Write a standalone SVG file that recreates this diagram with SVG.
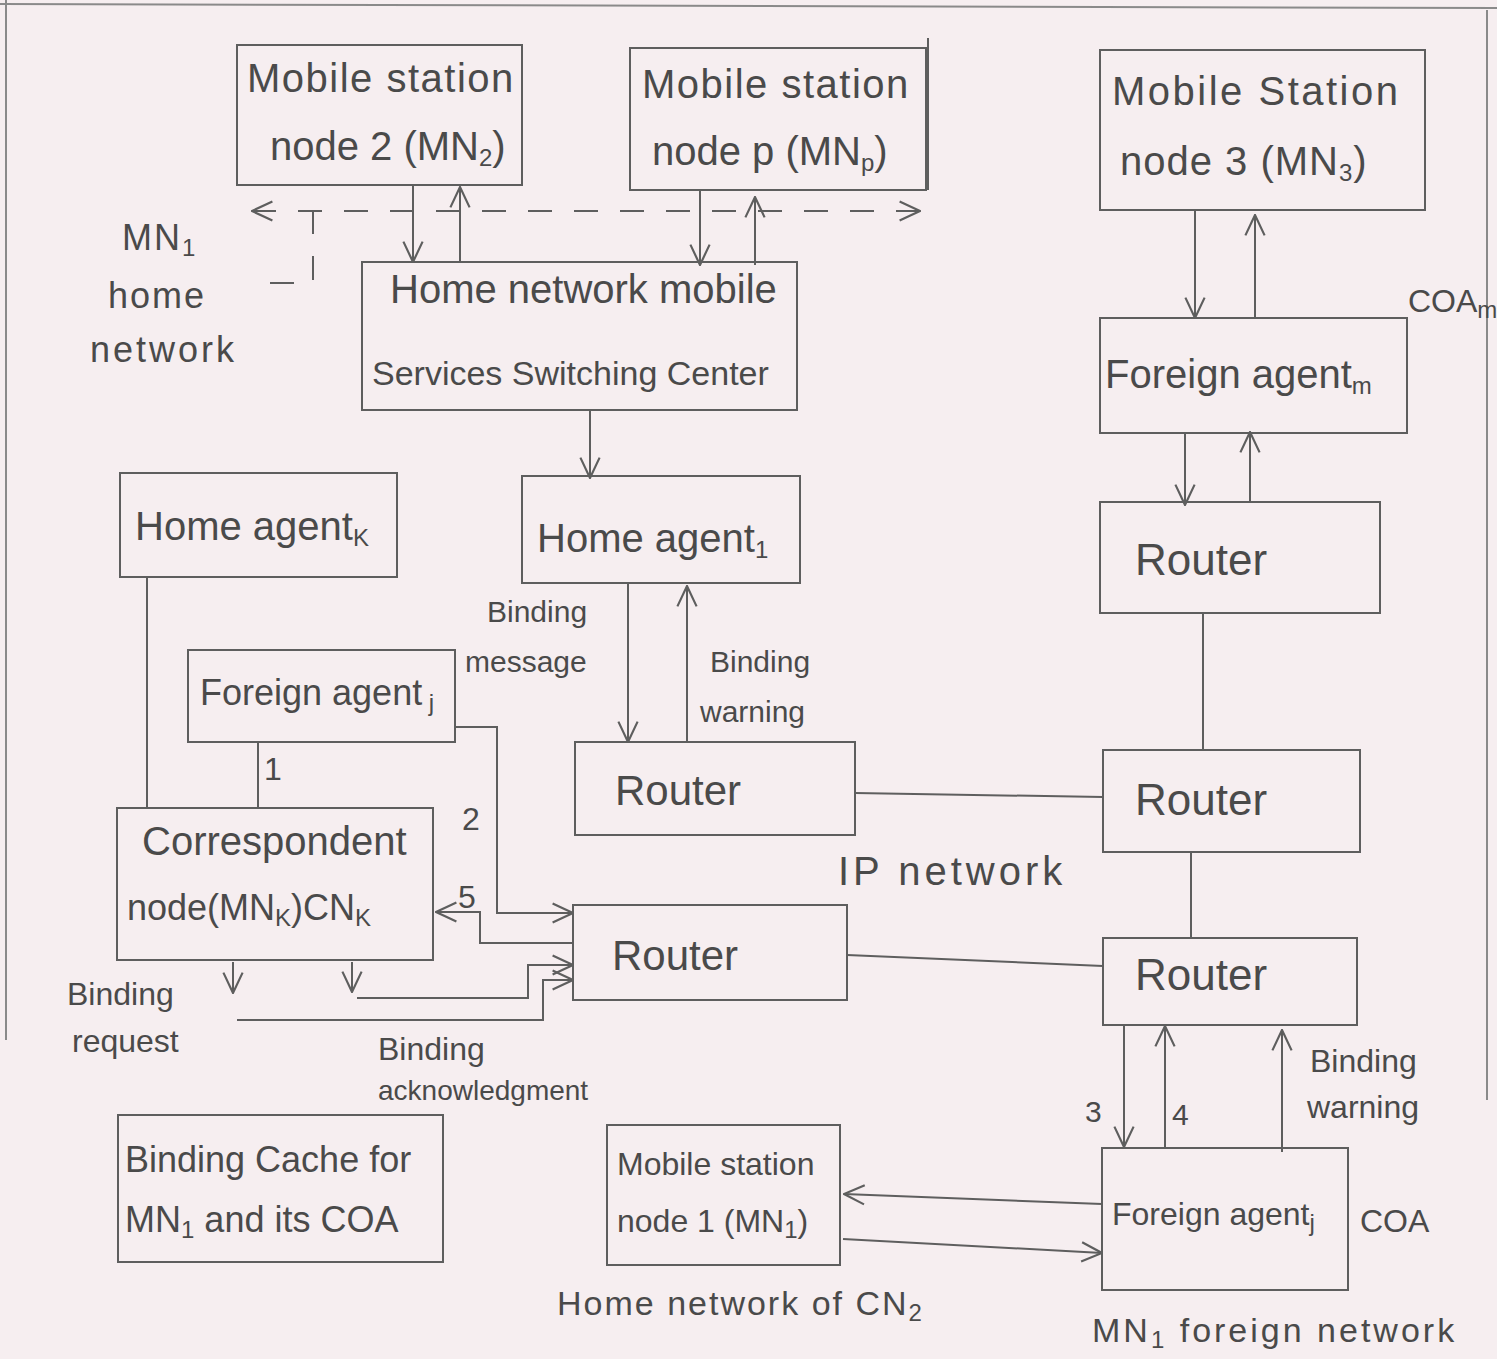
<svg xmlns="http://www.w3.org/2000/svg" width="1497" height="1359" viewBox="0 0 1497 1359">
<defs>
<style>
.bg{fill:#f6eef0}
.box{fill:none;stroke:#5e5e5e;stroke-width:2}
.ln{fill:none;stroke:#5e5e5e;stroke-width:2}
.ar{fill:none;stroke:#5e5e5e;stroke-width:2;marker-end:url(#ah)}
.dash{fill:none;stroke:#5e5e5e;stroke-width:2;stroke-dasharray:24 22}
.pg{fill:none;stroke:#8a8a8a;stroke-width:2}
text{font-family:"Liberation Sans","DejaVu Sans",sans-serif;fill:#4a4a4a}
.t40{font-size:40px}
.t36{font-size:36px}
.t32{font-size:32px}
.t30{font-size:30px}
.sub{font-size:24px}
</style>
<marker id="ah" viewBox="0 0 20 20" refX="19" refY="10" markerWidth="24" markerHeight="24" orient="auto-start-reverse" markerUnits="userSpaceOnUse">
<path d="M2,2 L19,10 L2,18" fill="none" stroke="#5e5e5e" stroke-width="1.8"/>
</marker>
</defs>
<rect class="bg" x="0" y="0" width="1497" height="1359"/>
<path class="pg" d="M0,4 L1497,8"/>
<path class="pg" d="M6,0 V1040"/>
<path class="pg" d="M1487,10 V1100"/>

<g id="connectors">
<path class="ar" d="M413,185 V262"/>
<path class="ar" d="M460,262 V187"/>
<path class="ar" d="M700,190 V265"/>
<path class="ar" d="M755,265 V197"/>
<path class="dash" d="M920,211 H252" marker-start="url(#ah)" marker-end="url(#ah)"/>
<path class="dash" d="M313,210 V283 H250"/>
<path class="ar" d="M1195,210 V318"/>
<path class="ar" d="M1255,318 V215"/>
<path class="ar" d="M1185,433 V505"/>
<path class="ar" d="M1250,503 V432"/>
<path class="ar" d="M590,410 V478"/>
<path class="ar" d="M628,583 V742"/>
<path class="ar" d="M687,742 V586"/>
<path class="ln" d="M1203,613 V750"/>
<path class="ln" d="M1191,852 V938"/>
<path class="ln" d="M855,793 L1103,797"/>
<path class="ln" d="M847,955 L1103,966"/>
<path class="ln" d="M147,577 V808"/>
<path class="ln" d="M258,742 V808"/>
<path class="ar" d="M455,727 H497 V913 H573"/>
<path class="ar" d="M573,943 H480 V912 H436"/>
<path class="ar" d="M233,962 V993"/>
<path class="ar" d="M237,1020 H543 V980 H573"/>
<path class="ar" d="M352,962 V992"/>
<path class="ar" d="M357,998 H528 V965 H573"/>
<path class="ar" d="M1102,1204 L844,1194"/>
<path class="ar" d="M843,1239 L1102,1253"/>
<path class="ar" d="M1124,1025 V1147"/>
<path class="ar" d="M1165,1148 V1026"/>
<path class="ar" d="M1282,1152 V1030"/>
</g>

<g id="mn2">
<rect class="box" x="237" y="45" width="285" height="140"/>
<text class="t40" x="247" y="92" letter-spacing="1.5">Mobile station</text>
<text class="t40" x="270" y="160">node 2 (MN<tspan class="sub" dy="6">2</tspan><tspan dy="-6">)</tspan></text>
</g>
<g id="mnp">
<rect class="box" x="630" y="48" width="296" height="142"/>
<path class="box" d="M928,38 V190"/>
<text class="t40" x="642" y="98" letter-spacing="1.5">Mobile station</text>
<text class="t40" x="652" y="165">node p (MN<tspan class="sub" dy="6">p</tspan><tspan dy="-6">)</tspan></text>
</g>
<g id="mn3">
<rect class="box" x="1100" y="50" width="325" height="160"/>
<text class="t40" x="1112" y="105" letter-spacing="2.5">Mobile Station</text>
<text class="t40" x="1120" y="175" letter-spacing="1">node 3 (MN<tspan class="sub" dy="6">3</tspan><tspan dy="-6">)</tspan></text>
</g>
<g id="msc">
<rect class="box" x="362" y="262" width="435" height="148"/>
<text class="t40" x="390" y="303">Home network mobile</text>
<text x="372" y="385" style="font-size:34px">Services Switching Center</text>
</g>
<g id="fam">
<rect class="box" x="1100" y="318" width="307" height="115"/>
<text class="t40" x="1105" y="388">Foreign agent<tspan class="sub" dy="6">m</tspan></text>
<text class="t32" x="1408" y="312">COA<tspan class="sub" dy="6">m</tspan></text>
</g>
<g id="router-r1">
<rect class="box" x="1100" y="502" width="280" height="111"/>
<text class="t40" x="1135" y="575" style="font-size:44px">Router</text>
</g>
<g id="hak">
<rect class="box" x="120" y="473" width="277" height="104"/>
<text class="t40" x="135" y="540">Home agent<tspan class="sub" dy="6">K</tspan></text>
</g>
<g id="ha1">
<rect class="box" x="522" y="476" width="278" height="107"/>
<text class="t40" x="537" y="552">Home agent<tspan class="sub" dy="6">1</tspan></text>
</g>
<g id="faj-left">
<rect class="box" x="188" y="650" width="267" height="92"/>
<text class="t36" x="200" y="705">Foreign agent<tspan class="sub" dy="6"> j</tspan></text>
</g>
<g id="router-mid">
<rect class="box" x="575" y="742" width="280" height="93"/>
<text class="t40" x="615" y="805" style="font-size:42px">Router</text>
</g>
<g id="router-r2">
<rect class="box" x="1103" y="750" width="257" height="102"/>
<text class="t40" x="1135" y="815" style="font-size:44px">Router</text>
</g>
<g id="cn">
<rect class="box" x="117" y="808" width="316" height="152"/>
<text class="t40" x="142" y="855">Correspondent</text>
<text class="t36" x="127" y="920">node(MN<tspan class="sub" dy="6">K</tspan><tspan dy="-6">)CN</tspan><tspan class="sub" dy="6">K</tspan></text>
</g>
<g id="router-low">
<rect class="box" x="573" y="905" width="274" height="95"/>
<text class="t40" x="612" y="970" style="font-size:42px">Router</text>
</g>
<g id="router-r3">
<rect class="box" x="1103" y="938" width="254" height="87"/>
<text class="t40" x="1135" y="990" style="font-size:44px">Router</text>
</g>
<g id="cache">
<rect class="box" x="118" y="1115" width="325" height="147"/>
<text class="t36" x="125" y="1172">Binding Cache for</text>
<text class="t36" x="125" y="1232">MN<tspan class="sub" dy="6">1</tspan><tspan dy="-6"> and its COA</tspan></text>
</g>
<g id="mn1">
<rect class="box" x="607" y="1125" width="233" height="140"/>
<text class="t32" x="617" y="1175">Mobile station</text>
<text class="t32" x="617" y="1232">node 1 (MN<tspan class="sub" dy="6">1</tspan><tspan dy="-6">)</tspan></text>
</g>
<g id="faj-right">
<rect class="box" x="1102" y="1148" width="246" height="142"/>
<text class="t32" x="1112" y="1225">Foreign agent<tspan class="sub" dy="6">j</tspan></text>
<text class="t32" x="1360" y="1232">COA</text>
</g>

<g id="labels">
<text class="t36" x="122" y="250" letter-spacing="2">MN<tspan class="sub" dy="6">1</tspan></text>
<text class="t36" x="108" y="308" letter-spacing="2">home</text>
<text class="t36" x="90" y="362" letter-spacing="3">network</text>
<text class="t30" x="487" y="622">Binding</text>
<text class="t30" x="465" y="672">message</text>
<text class="t30" x="710" y="672">Binding</text>
<text class="t30" x="700" y="722">warning</text>
<text class="t32" x="264" y="780">1</text>
<text class="t32" x="462" y="830">2</text>
<text class="t32" x="458" y="908">5</text>
<text class="t40" x="838" y="885" letter-spacing="4">IP network</text>
<text class="t32" x="67" y="1005">Binding</text>
<text class="t32" x="72" y="1052">request</text>
<text class="t32" x="378" y="1060">Binding</text>
<text x="378" y="1100" style="font-size:28px">acknowledgment</text>
<text class="t30" x="1085" y="1122">3</text>
<text class="t30" x="1172" y="1125">4</text>
<text class="t32" x="1310" y="1072">Binding</text>
<text class="t32" x="1307" y="1118">warning</text>
<text x="557" y="1315" style="font-size:34px" letter-spacing="2">Home network of CN<tspan class="sub" dy="6">2</tspan></text>
<text x="1092" y="1342" style="font-size:34px" letter-spacing="3">MN<tspan class="sub" dy="6">1</tspan><tspan dy="-6"> foreign network</tspan></text>
</g>
</svg>
